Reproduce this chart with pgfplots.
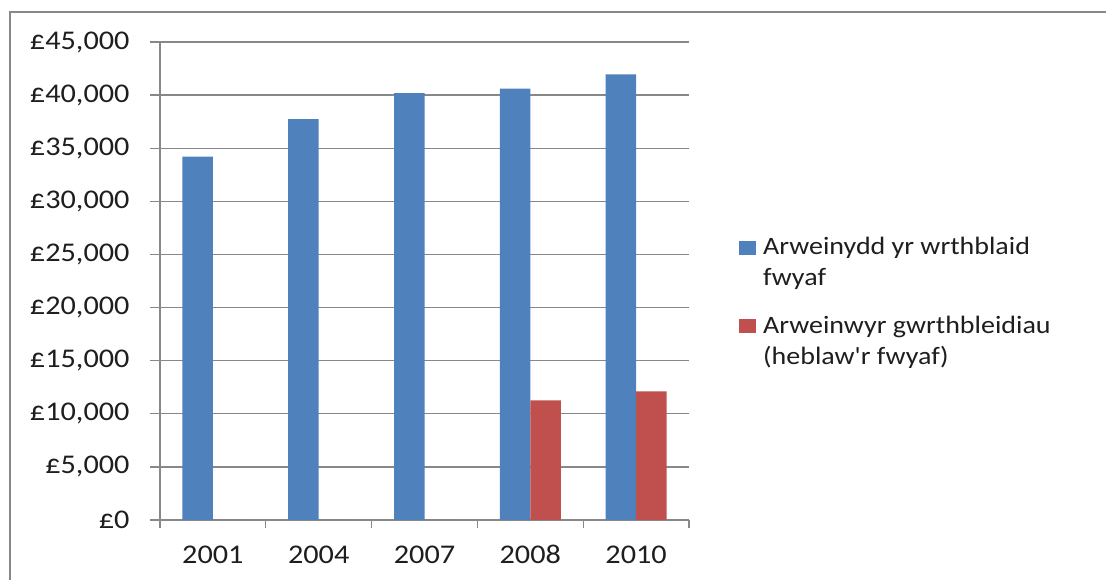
\documentclass[border=0pt]{standalone}
\usepackage{pgfplots}
\pgfplotsset{compat=1.18}
\usepackage{fontspec}
\setmainfont{Carlito}[FakeStretch=1.12,Ligatures=TeXOff]
\definecolor{barblue}{HTML}{4F81BD}
\definecolor{barred}{HTML}{C0504D}
\definecolor{gridgray}{HTML}{888888}
\definecolor{txt}{HTML}{1E1E1E}
\begin{document}
\begin{tikzpicture}[x=1pt,y=1pt]
\useasboundingbox (0,0) rectangle (1106,580);
\fill[white] (0,0) rectangle (1106,580);
\draw[gridgray, line width=2pt] (10,0) -- (10,568) -- (1106,568);
\begin{axis}[
  at={(160pt,60pt)}, anchor=south west,
  scale only axis, width=529pt, height=478pt,
  ybar=0pt, bar width=30.5pt,
  xmin=-0.5, xmax=4.5, ymin=0, ymax=45000,
  xtick={0,...,4}, xticklabels={2001,2004,2007,2008,2010},
  minor xtick={-0.5,0.5,...,4.5},
  ytick={0,5000,...,45000},
  scaled y ticks=false,
  yticklabel={£\pgfmathprintnumber[assume math mode=true,1000 sep={,}]{\tick}},
  axis lines*=left,
  axis line style={gridgray, line width=1.3pt},
  ymajorgrids, grid style={gridgray, line width=1.3pt},
  tick align=outside,
  major tick length=10pt, minor tick length=8pt,
  major x tick style={draw=none},
  minor x tick style={gridgray, line width=1.3pt},
  major y tick style={gridgray, line width=1.3pt},
  tick label style={font=\fontsize{27}{32}\selectfont, text=txt},
  yticklabel style={xshift=-17pt},
  xticklabel style={yshift=-12pt},
  legend style={at={(1.0945,0.5921)}, anchor=north west, draw=none, fill=none,
    inner sep=0pt, row sep=29pt, column sep=7pt,
    font=\fontsize{25}{31}\selectfont, text=txt,
    nodes={inner sep=0pt, align=left, anchor=base west}},
]
\addplot[fill=barblue, draw=none, legend image code/.code={\fill[barblue] (0pt,31pt) rectangle (17pt,45pt);}]
  coordinates {(0,34200) (1,37750) (2,40190) (3,40600) (4,41940)};
\addlegendentry{Arweinydd yr wrthblaid\\fwyaf}
\addplot[fill=barred, draw=none, legend image code/.code={\fill[barred] (0pt,31pt) rectangle (17pt,45pt);}]
  coordinates {(0,0) (1,0) (2,0) (3,11250) (4,12100)};
\addlegendentry{Arweinwyr gwrthbleidiau\\(heblaw'r fwyaf)}
\end{axis}
\end{tikzpicture}
\end{document}
